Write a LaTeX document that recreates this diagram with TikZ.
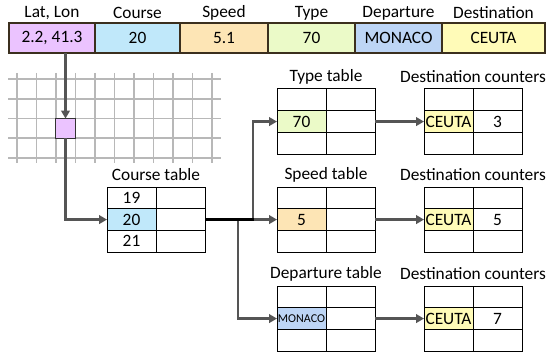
\documentclass[tikz,border=0pt]{standalone}
\usepackage{fontspec}
\setmainfont{Carlito}
\usetikzlibrary{arrows.meta,calc}
\definecolor{cpink}{HTML}{EBC3FF}
\definecolor{cblue}{HTML}{C0E8FA}
\definecolor{cpeach}{HTML}{FDE5B5}
\definecolor{cgreen}{HTML}{EBFAC8}
\definecolor{cdep}{HTML}{BDD5F5}
\definecolor{cyel}{HTML}{FFFBB8}
\definecolor{carrow}{HTML}{555555}
\definecolor{cgrid}{HTML}{B8B8B8}
\definecolor{cbar}{HTML}{3B2F1E}
\newcommand\mytable[9]{%
  \node[lbl] (#1-t) at ({#2+49},{#3-12}) {#4};
  \node[cell] (#1-tl) at (#2,#3) {#6};
  \node[cell] (#1-tr) at ({#2+49},#3) {};
  \node[cell,fill=#5] (#1-ml) at (#2,{#3+21.7}) {#7};
  \node[cell] (#1-mr) at ({#2+49},{#3+21.7}) {#9};
  \node[cell] (#1-bl) at (#2,{#3+43.4}) {#8};
  \node[cell] (#1-br) at ({#2+49},{#3+43.4}) {};
}
\begin{document}
\begin{tikzpicture}[x=0.75pt,y=-0.75pt,
  font=\fontsize{13}{15}\selectfont,
  lbl/.style={inner sep=0pt},
  cell/.style={draw=black,line width=0.75pt,minimum width=36.75pt,minimum height=16.3pt,inner sep=0pt,outer sep=0pt,anchor=north west},
  topcell/.style={draw=cbar,line width=0.9pt,minimum height=22.5pt,inner sep=0pt,outer sep=0pt,anchor=north west},
  gridl/.style={draw=cgrid,line width=1pt},
  arr/.style={draw=carrow,line width=2pt,-{Triangle[length=6pt,width=6.5pt]}},
  junction/.style={draw=black,line width=2.3pt}]
\useasboundingbox (0,0) rectangle (548,356);
% top bar
\node[topcell,fill=cpink,minimum width=64.5pt] (latlon) at (9,23) {2.2, 41.3};
\node[topcell,fill=cblue,minimum width=63.75pt] (course) at (95,23) {20};
\node[topcell,fill=cpeach,minimum width=66pt] (speed) at (180,23) {5.1};
\node[topcell,fill=cgreen,minimum width=65.25pt] (type) at (268,23) {70};
\node[topcell,fill=cdep,minimum width=65.25pt] (dep) at (355,23) {MONACO};
\node[topcell,fill=cyel,minimum width=77.25pt] (dest) at (442,23) {CEUTA};
\node[lbl] (l1) at ($(latlon.north)+(0,-10)$) {Lat, Lon};
\node[lbl] (l2) at ($(course.north)+(0,-10)$) {Course};
\node[lbl] (l3) at ($(speed.north)+(0,-10)$) {Speed};
\node[lbl] (l4) at ($(type.north)+(0,-10)$) {Type};
\node[lbl] (l5) at ($(dep.north)+(0,-10)$) {Departure};
\node[lbl] (l6) at ($(dest.north)+(0,-10)$) {Destination};
% grid
\foreach \y in {79,99,118.5,138,158} \draw[gridl] (8,\y) -- (221,\y);
\foreach \i in {0,...,10} \draw[gridl] ({17+19.5*\i},73) -- ({17+19.5*\i},163);
\node[draw=black!80,fill=cpink,minimum size=14.6pt,inner sep=0pt,outer sep=0pt,line width=0.75pt] (sq) at (65.5,128.3) {};
% tables
\mytable{ct}{107}{187}{Course table}{cblue}{19}{20}{21}{}
\mytable{tt}{277}{89}{Type table}{cgreen}{}{70}{}{}
\mytable{td}{424}{89}{Destination counters}{cyel}{}{CEUTA}{}{3}
\mytable{st}{277}{187}{Speed table}{cpeach}{}{5}{}{}
\mytable{sd}{424}{187}{Destination counters}{cyel}{}{CEUTA}{}{5}
\mytable{dt}{277}{286}{Departure table}{cdep}{}{{\fontsize{9}{10}\selectfont MONACO}}{}{}
\mytable{dd}{424}{286}{Destination counters}{cyel}{}{CEUTA}{}{7}
% connectors
\draw[arr] (sq.north |- latlon.south) -- (sq.north);
\draw[arr] (sq.south) |- (ct-ml.west);
\coordinate (j) at ($(ct-mr.east)+(48,0)$);
\coordinate (j2) at ($(ct-mr.east)+(33,0)$);
\draw[arr] (j) |- (tt-ml.west);
\draw[arr] (j) -- (st-ml.west);
\draw[arr] (j2) |- (dt-ml.west);
\draw[junction] (ct-mr.east) -- ($(j)+(1,0)$);
\draw[arr] (tt-mr.east) -- (td-ml.west);
\draw[arr] (st-mr.east) -- (sd-ml.west);
\draw[arr] (dt-mr.east) -- (dd-ml.west);
\end{tikzpicture}
\end{document}
